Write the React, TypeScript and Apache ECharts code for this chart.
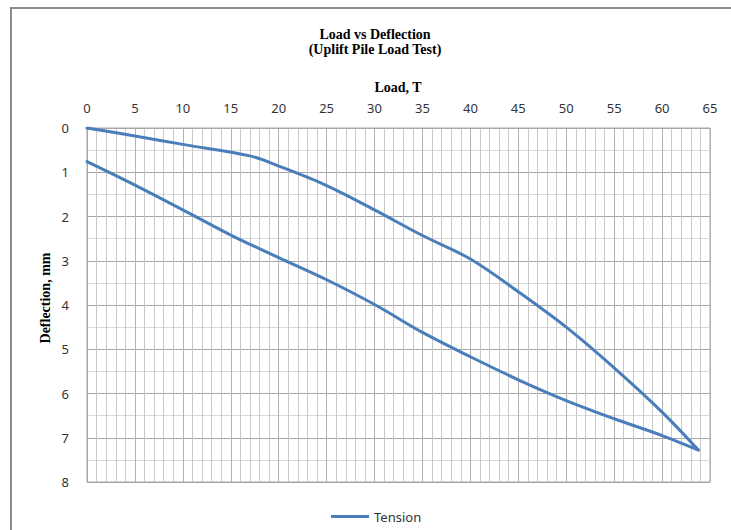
import React, { useEffect, useRef } from "react";
import * as echarts from "echarts";

const titleLines = ["Load vs Deflection", "(Uplift Pile Load Test)"];
const xAxisTitle = "Load, T";
const yAxisTitle = "Deflection, mm";
const seriesName = "Tension";

// Load (T) and deflection (mm) read along the loading then unloading loop
const loads = [0, 5, 10, 17, 20, 25, 30, 35, 40, 45, 50, 55, 60, 63.8, 60, 55, 50, 45, 40, 35, 30, 25, 20, 15, 10, 5, 0];
const deflections = [0, 0.18, 0.37, 0.63, 0.86, 1.3, 1.85, 2.43, 2.96, 3.7, 4.5, 5.42, 6.42, 7.28, 6.95, 6.57, 6.16, 5.69, 5.17, 4.62, 3.99, 3.43, 2.93, 2.42, 1.85, 1.29, 0.76];

const xMin = 0, xMax = 65, xStep = 5;
const yMin = 0, yMax = 8, yStep = 1;

export default function App() {
  const ref = useRef<HTMLDivElement>(null);
  useEffect(() => {
    if (!ref.current) return;
    const chart = echarts.init(ref.current, null, { renderer: "svg" });
    const data = loads.map((l, i) => [l, deflections[i]]);
    const labelFont = "'Noto Sans', sans-serif";
    const serif = "'Liberation Serif', serif";
    const titleText = (text: string, x: number, y: number, rotation = 0) => ({
      type: "text",
      x,
      y,
      rotation,
      style: {
        text,
        fontFamily: serif,
        fontWeight: "bold",
        fontSize: 14,
        fill: "#000",
        textAlign: "center",
        textVerticalAlign: "middle",
      },
    });
    chart.setOption({
      animation: false,
      backgroundColor: "#ffffff",
      grid: {
        left: 87,
        right: 21,
        top: 128,
        bottom: 48,
        show: true,
        borderColor: "#a6a6a6",
        borderWidth: 1,
      },
      xAxis: {
        type: "value",
        position: "top",
        min: xMin,
        max: xMax,
        interval: xStep,
        axisLine: { show: true, lineStyle: { color: "#a6a6a6" } },
        axisTick: { show: false },
        axisLabel: { margin: 14, color: "#333", fontSize: 13, fontFamily: labelFont },
        splitLine: { show: true, lineStyle: { color: "#b3b3b3", width: 1 } },
        minorTick: { show: false, splitNumber: 5 },
        minorSplitLine: { show: true, lineStyle: { color: "#c8c8c8", width: 1 } },
      },
      yAxis: {
        type: "value",
        inverse: true,
        min: yMin,
        max: yMax,
        interval: yStep,
        axisLine: { show: true, lineStyle: { color: "#a6a6a6" } },
        axisTick: { show: false },
        axisLabel: { margin: 18, color: "#333", fontSize: 13, fontFamily: labelFont },
        splitLine: { show: true, lineStyle: { color: "#a6a6a6", width: 1 } },
        minorTick: { show: false, splitNumber: 2 },
        minorSplitLine: { show: true, lineStyle: { color: "#d9d9d9", width: 1 } },
      },
      legend: {
        data: [seriesName],
        left: 326,
        top: 505,
        icon: "rect",
        itemWidth: 38,
        itemHeight: 3,
        textStyle: { color: "#333", fontSize: 13, fontFamily: labelFont },
      },
      series: [
        {
          name: seriesName,
          type: "line",
          data,
          smooth: 0.35,
          symbol: "none",
          lineStyle: { color: "#4a7ebb", width: 3, join: "round", cap: "round" },
          itemStyle: { color: "#4a7ebb" },
        },
      ],
      graphic: [
        {
          type: "rect",
          shape: { x: 11, y: 8, width: 800, height: 600 },
          style: { fill: "none", stroke: "#8c8c8c", lineWidth: 2 },
          silent: true,
        },
        titleText(titleLines[0], 375, 34),
        titleText(titleLines[1], 375, 49),
        titleText(xAxisTitle, 398, 87),
        titleText(yAxisTitle, 45, 298, Math.PI / 2),
      ],
    });
    return () => chart.dispose();
  }, []);
  return (
    <div
      ref={ref}
      style={{ position: "absolute", left: 0, top: 0, width: 731, height: 530 }}
    />
  );
}
